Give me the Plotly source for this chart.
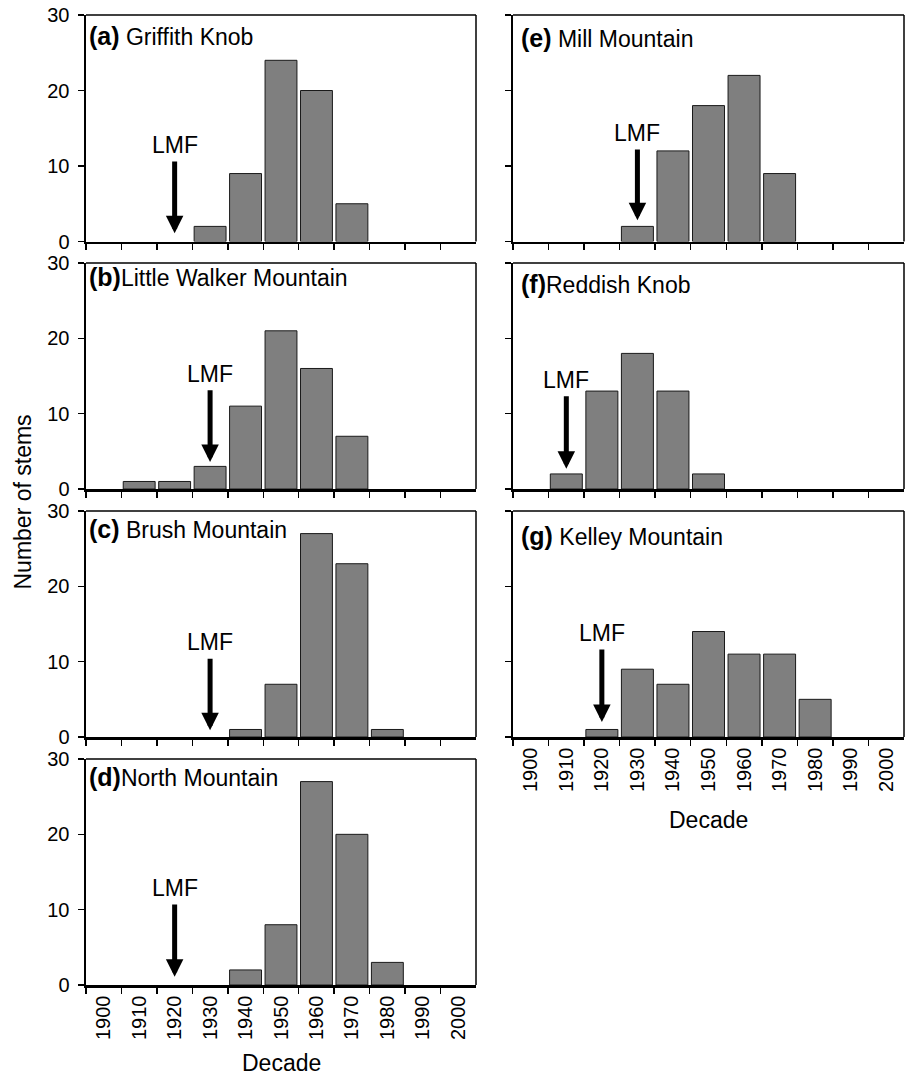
import plotly.graph_objects as go

# ---------------- data ----------------
decades = ["1900", "1910", "1920", "1930", "1940", "1950",
           "1960", "1970", "1980", "1990", "2000"]

griffith_knob = [0, 0, 0, 2, 9, 24, 20, 5, 0, 0, 0]
little_walker = [0, 1, 1, 3, 11, 21, 16, 7, 0, 0, 0]
brush_mtn = [0, 0, 0, 0, 1, 7, 27, 23, 1, 0, 0]
north_mtn = [0, 0, 0, 0, 2, 8, 27, 20, 3, 0, 0]
mill_mtn = [0, 0, 0, 2, 12, 18, 22, 9, 0, 0, 0]
reddish_knob = [0, 2, 13, 18, 13, 2, 0, 0, 0, 0, 0]
kelley_mtn = [0, 0, 1, 9, 7, 14, 11, 11, 5, 0, 0]

panel_letters = ["a", "b", "c", "d", "e", "f", "g"]
panel_names = ["Griffith Knob", "Little Walker Mountain", "Brush Mountain",
               "North Mountain", "Mill Mountain", "Reddish Knob", "Kelley Mountain"]
panel_values = [griffith_knob, little_walker, brush_mtn, north_mtn,
                mill_mtn, reddish_knob, kelley_mtn]
lmf_decades = ["1920", "1930", "1930", "1920", "1930", "1910", "1920"]
# arrow tip / tail heights (in stems units)
arrow_tip = [1.1, 3.6, 0.9, 1.1, 2.8, 2.7, 2.0]
arrow_tail = [10.8, 13.3, 10.6, 10.9, 12.4, 12.5, 11.8]

# ---------------- layout geometry ----------------
W, H = 908, 1075
col_x = {0: (86, 476), 1: (513, 904)}
row_y = [(15, 241.5), (263, 489), (511, 737), (759, 985)]
# (column, row) for each panel
placement = [(0, 0), (0, 1), (0, 2), (0, 3), (1, 0), (1, 1), (1, 2)]
title_sep = [" ", "", " ", "", " ", "", " "]
title_yshift = [-5, 2, -2, -2, -7, -5, -9]

FONT = "Liberation Sans, Arial, Helvetica, sans-serif"

fig = go.Figure()
annotations = []
shapes = []
layout = {}

for i, vals in enumerate(panel_values):
    n = i + 1
    xa = "x" if n == 1 else f"x{n}"
    ya = "y" if n == 1 else f"y{n}"
    xkey = "xaxis" if n == 1 else f"xaxis{n}"
    ykey = "yaxis" if n == 1 else f"yaxis{n}"
    col, row = placement[i]
    x0, x1 = col_x[col]
    ytop, ybot = row_y[row]
    bottom_panel = (i == 3) or (i == 6)

    fig.add_trace(go.Bar(
        x=decades, y=vals, xaxis=xa, yaxis=ya,
        marker=dict(color="#7f7f7f",
                    line=dict(color="#1a1a1a",
                              width=[1 if v > 0 else 0 for v in vals])),
        showlegend=False,
    ))

    layout[xkey] = dict(
        domain=[x0 / W, x1 / W], anchor=ya, type="category",
        categoryorder="array", categoryarray=decades,
        range=[-0.5, 10.5], tickson="boundaries",
        ticks="outside", ticklen=6, tickwidth=1.5, tickcolor="black",
        showticklabels=bottom_panel, tickangle=-90,
        tickfont=dict(family=FONT, size=20, color="black"),
        showline=True, linewidth=2.5, linecolor="black",
        showgrid=False, zeroline=False, fixedrange=True, automargin=False,
    )
    layout[ykey] = dict(
        domain=[1 - ybot / H, 1 - ytop / H], anchor=xa,
        range=[0, 30], tickvals=[0, 10, 20, 30],
        ticks="outside", ticklen=6, tickwidth=1.5, tickcolor="black",
        showticklabels=(col == 0), ticklabelstandoff=4,
        tickfont=dict(family=FONT, size=20, color="black"),
        showline=True, linewidth=2.5, linecolor="black",
        showgrid=False, zeroline=False, fixedrange=True, automargin=False,
    )

    # top and right frame lines
    shapes.append(dict(type="line", xref=f"{xa} domain", yref=f"{ya} domain",
                       x0=0, x1=1, y0=1, y1=1, line=dict(color="black", width=1.5)))
    shapes.append(dict(type="line", xref=f"{xa} domain", yref=f"{ya} domain",
                       x0=1, x1=1, y0=0, y1=1, line=dict(color="black", width=1.5)))

    # panel title
    annotations.append(dict(
        xref=f"{xa} domain", yref=f"{ya} domain", x=0, y=1,
        xanchor="left", yanchor="top",
        xshift=1 if col == 0 else 6, yshift=title_yshift[i],
        text=f"<span style='font-size:25px'><b>({panel_letters[i]})</b></span>"
             f"{title_sep[i]}{panel_names[i]}",
        showarrow=False, font=dict(family=FONT, size=23, color="black"),
    ))

    # LMF arrow
    idx = decades.index(lmf_decades[i])
    annotations.append(dict(
        xref=xa, yref=ya, x=idx, y=arrow_tip[i],
        axref=xa, ayref=ya, ax=idx, ay=arrow_tail[i],
        text="", showarrow=True, arrowhead=2, arrowwidth=5,
        arrowsize=0.7, arrowcolor="black", standoff=0,
    ))
    annotations.append(dict(
        xref=xa, yref=ya, x=idx, y=arrow_tail[i],
        yanchor="bottom", xanchor="center", yshift=0,
        text="LMF", showarrow=False,
        font=dict(family=FONT, size=23, color="black"),
    ))

# axis titles
annotations.append(dict(xref="paper", yref="paper", x=281 / W, y=1 - 1063 / H,
                        xanchor="center", yanchor="middle",
                        text="Decade", showarrow=False,
                        font=dict(family=FONT, size=23, color="black")))
annotations.append(dict(xref="paper", yref="paper", x=708.5 / W, y=1 - 820 / H,
                        xanchor="center", yanchor="middle",
                        text="Decade", showarrow=False,
                        font=dict(family=FONT, size=23, color="black")))
annotations.append(dict(xref="paper", yref="paper", x=22.5 / W, y=1 - 502 / H,
                        xanchor="center", yanchor="middle",
                        text="Number of stems", textangle=-90, showarrow=False,
                        font=dict(family=FONT, size=23, color="black")))

fig.update_layout(
    template="none",
    width=W, height=H, autosize=False,
    margin=dict(l=0, r=0, t=0, b=0, pad=0),
    paper_bgcolor="white", plot_bgcolor="white",
    bargap=0.1, showlegend=False, hovermode=False,
    font=dict(family=FONT, color="black"),
    annotations=annotations, shapes=shapes,
    **layout,
)

fig.write_html(
    "out.html",
    config={"displayModeBar": False, "staticPlot": True},
    post_script="document.body.style.margin='0';document.body.style.padding='0';"
                "document.body.style.overflow='hidden';",
)
